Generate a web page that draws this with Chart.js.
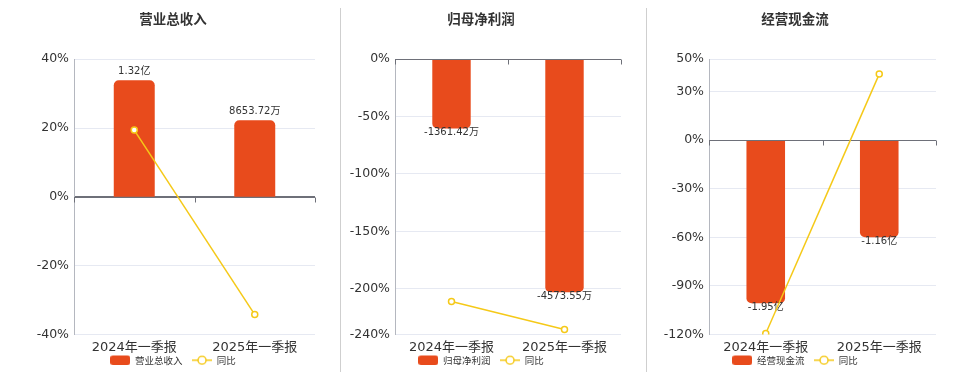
<!DOCTYPE html>
<html>
<head>
<meta charset="utf-8">
<script src="https://cdn.jsdelivr.net/npm/chart.js@4/dist/chart.umd.min.js"></script>
<style>
  html, body { margin: 0; padding: 0; background: #fff; }
  #wrap { position: relative; width: 960px; height: 372px; overflow: hidden; }
  .panel { position: absolute; top: 0; }
  .divider { position: absolute; top: 8px; width: 1px; height: 364px; background: #cfcfcf; }
</style>
</head>
<body>
<div id="wrap">
  <div class="panel" style="left:0px"><canvas id="c1" width="340" height="372"></canvas></div>
  <div class="divider" style="left:340px"></div>
  <div class="panel" style="left:341px"><canvas id="c2" width="304" height="372"></canvas></div>
  <div class="divider" style="left:646px"></div>
  <div class="panel" style="left:647px"><canvas id="c3" width="313" height="372"></canvas></div>
</div>
<script>
// ---------- data ----------
const categories = ['2024年一季报', '2025年一季报'];

// 营业总收入 (万元)
const revenueValues = [13200, 8653.72];
const revenueLabels = ['1.32亿', '8653.72万'];
const revenueYoY = [19.4, -34.2];
const revenueTicks = [40, 20, 0, -20, -40];

// 归母净利润 (万元)
const profitValues = [-1361.42, -4573.55];
const profitLabels = ['-1361.42万', '-4573.55万'];
const profitYoY = [-211.3, -235.7];
const profitTicks = [0, -50, -100, -150, -200, -240];

// 经营现金流 (万元)
const cashValues = [-19500, -11600];
const cashLabels = ['-1.95亿', '-1.16亿'];
const cashYoY = [-119.4, 40.8];
const cashTicks = [50, 30, 0, -30, -60, -90, -120];

// ---------- styles ----------
const ORANGE = '#e84b1c';
const YELLOW = '#f5c918';
const FONT = "'DejaVu Sans', 'Noto Sans CJK SC', sans-serif";
const CJK = "'Noto Sans CJK SC', 'DejaVu Sans', sans-serif";

function barIcon() {
  const c = document.createElement('canvas');
  c.width = 20; c.height = 10;
  const x = c.getContext('2d');
  x.fillStyle = ORANGE;
  x.beginPath();
  x.roundRect(0, 0, 20, 10, 3);
  x.fill();
  return c;
}
function lineIcon() {
  const c = document.createElement('canvas');
  c.width = 20; c.height = 10;
  const x = c.getContext('2d');
  x.strokeStyle = YELLOW;
  x.lineWidth = 1.5;
  x.beginPath(); x.moveTo(0, 5); x.lineTo(20, 5); x.stroke();
  x.beginPath(); x.arc(10, 5, 4, 0, Math.PI * 2);
  x.fillStyle = '#fff'; x.fill(); x.stroke();
  return c;
}
const BAR_ICON = barIcon();
const LINE_ICON = lineIcon();

const panelPlugin = {
  id: 'panelExtras',
  afterDatasetDraw(chart, args) {
    if (args.index !== 0) return;
    const ctx = chart.ctx;
    const ys = chart.scales.y;
    const area = chart.chartArea;
    const y0 = Math.round(ys.getPixelForValue(0)) + 0.5;
    // zero axis line with boundary ticks
    ctx.save();
    ctx.strokeStyle = '#6e7079';
    ctx.lineWidth = 1;
    ctx.beginPath();
    ctx.moveTo(area.left, y0); ctx.lineTo(area.right, y0);
    const n = chart.data.labels.length;
    for (let i = 0; i <= n; i++) {
      const x = Math.round(area.left + (area.right - area.left) * i / n) + 0.5;
      ctx.moveTo(x, y0); ctx.lineTo(x, y0 + 5);
    }
    ctx.stroke();
    // data labels
    const labels = chart.options.plugins.panelExtras.labels;
    const data = chart.data.datasets[0].data;
    ctx.font = '10px ' + FONT;
    ctx.fillStyle = '#333';
    ctx.textAlign = 'center';
    ctx.textBaseline = 'middle';
    chart.getDatasetMeta(0).data.forEach((bar, i) => {
      const y = data[i] >= 0 ? bar.y - 9 : bar.y + 4;
      ctx.fillText(labels[i], bar.x, y);
    });
    ctx.restore();
  }
};

function makePanel(id, cfg) {
  const yLo = cfg.ticks[cfg.ticks.length - 1], yHi = cfg.ticks[0];
  return new Chart(document.getElementById(id), {
    type: 'bar',
    data: {
      labels: categories,
      datasets: [
        {
          type: 'bar', label: cfg.name, data: cfg.values, yAxisID: 'y1',
          backgroundColor: ORANGE, borderRadius: 5, borderSkipped: 'start',
          barPercentage: 0.34, categoryPercentage: 1, order: 1
        },
        {
          type: 'line', label: '同比', data: cfg.yoy, yAxisID: 'y',
          borderColor: YELLOW, borderWidth: 1.5, tension: 0,
          pointRadius: 3, pointBackgroundColor: '#fff', pointBorderColor: YELLOW,
          pointBorderWidth: 1.5, order: 0
        }
      ]
    },
    options: {
      responsive: false, animation: false, devicePixelRatio: 1,
      layout: { padding: { left: cfg.padL, right: cfg.padR, top: 0, bottom: -3 } },
      scales: {
        x: {
          afterFit: s => { s.height = 21; },
          grid: { display: false, drawTicks: false }, border: { display: false },
          ticks: { color: '#333', font: { size: 13, family: FONT }, padding: 5 }
        },
        y: {
          position: 'left', min: yLo, max: yHi,
          afterBuildTicks: s => { s.ticks = cfg.ticks.map(v => ({ value: v })); },
          afterFit: s => { s.width = cfg.yW; },
          grid: { color: c => (c.tick && c.tick.value === 0) ? '#6e7079' : '#e6e9f2', drawTicks: false },
          border: { display: true, color: '#b4b7bf' },
          ticks: { color: '#333', font: { size: 12.5, family: FONT }, padding: 5, callback: v => v + '%' }
        },
        y1: {
          display: false, position: 'right',
          min: yLo * cfg.k, max: yHi * cfg.k
        }
      },
      plugins: {
        title: {
          display: true, text: cfg.name, color: '#333',
          font: { size: 13.5, weight: 'bold', family: CJK },
          padding: { top: 11, bottom: 32 }
        },
        legend: {
          position: 'bottom',
          labels: {
            usePointStyle: true, pointStyleWidth: 20, boxHeight: 10,
            padding: 0, color: '#333', font: { size: 9.5, family: CJK },
            generateLabels: chart => chart.data.datasets.map((ds, i) => ({
              text: i === 0 ? ds.label + '\u3000' : ds.label,
              pointStyle: i === 0 ? BAR_ICON : LINE_ICON,
              fillStyle: 'transparent', strokeStyle: 'transparent', lineWidth: 0,
              hidden: false, datasetIndex: i, fontColor: '#333'
            }))
          }
        },
        tooltip: { enabled: false },
        panelExtras: { labels: cfg.labels }
      }
    },
    plugins: [panelPlugin]
  });
}

makePanel('c1', { name: '营业总收入', values: revenueValues, labels: revenueLabels, yoy: revenueYoY,
  ticks: revenueTicks, k: 389.4, padL: 31, padR: 25, yW: 43 });
makePanel('c2', { name: '归母净利润', values: profitValues, labels: profitLabels, yoy: profitYoY,
  ticks: profitTicks, k: 22.51, padL: 0, padR: 24, yW: 54 });
makePanel('c3', { name: '经营现金流', values: cashValues, labels: cashLabels, yoy: cashYoY,
  ticks: cashTicks, k: 193.6, padL: 7, padR: 24, yW: 55 });
</script>
</body>
</html>
